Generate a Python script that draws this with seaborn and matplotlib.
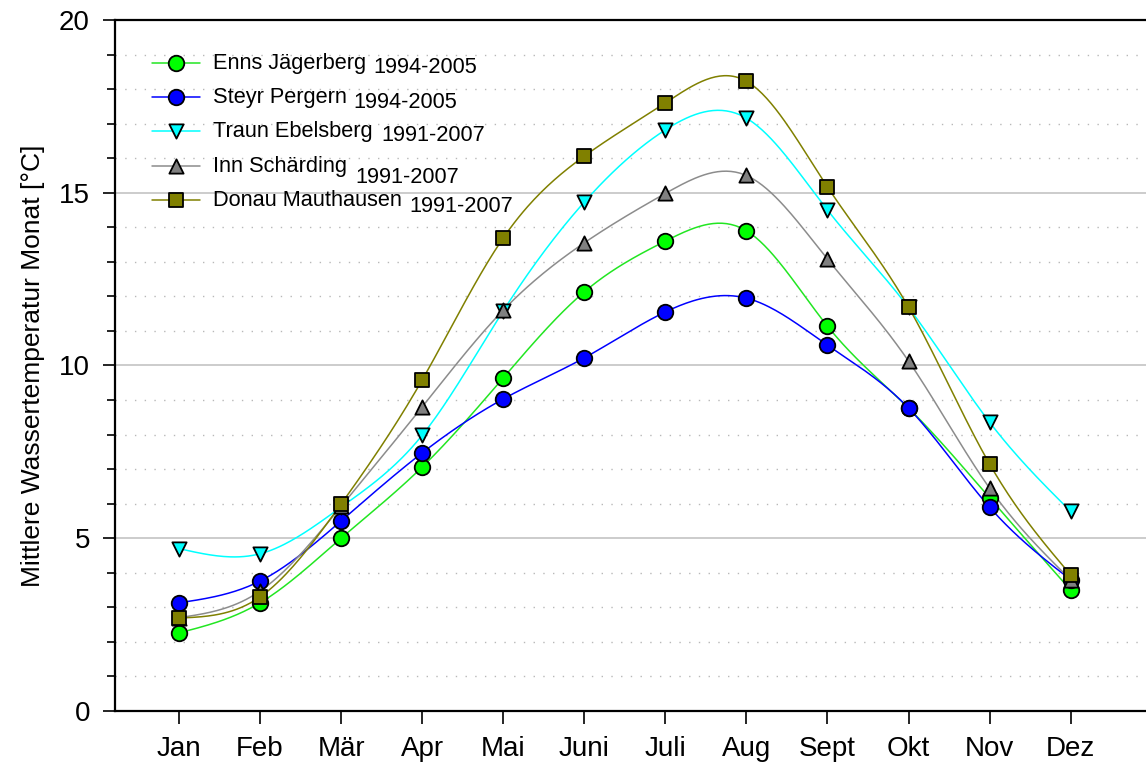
import numpy as np
import pandas as pd
import matplotlib
matplotlib.use("Agg")
import matplotlib.pyplot as plt
import seaborn as sns
from matplotlib.ticker import MultipleLocator

# Daten
monate = ["Jan", "Feb", "Mär", "Apr", "Mai", "Juni", "Juli", "Aug", "Sept", "Okt", "Nov", "Dez"]
enns = [2.26, 3.13, 5.0, 7.06, 9.64, 12.13, 13.6, 13.9, 11.14, 8.77, 6.17, 3.5]
steyr = [3.13, 3.76, 5.5, 7.47, 9.03, 10.22, 11.55, 11.95, 10.59, 8.77, 5.9, 3.8]
traun = [4.7, 4.55, 5.9, 7.98, 11.58, 14.73, 16.82, 17.16, 14.5, 11.68, 8.36, 5.78]
inn = [2.7, 3.47, 5.92, 8.8, 11.6, 13.55, 14.98, 15.5, 13.08, 10.13, 6.45, 3.8]
donau = [2.69, 3.3, 5.99, 9.58, 13.69, 16.06, 17.6, 18.23, 15.17, 11.69, 7.15, 3.94]

namen = ["Enns Jägerberg", "Steyr Pergern", "Traun Ebelsberg", "Inn Schärding", "Donau Mauthausen"]
zeitraum = ["1994-2005", "1994-2005", "1991-2007", "1991-2007", "1991-2007"]
werte = [enns, steyr, traun, inn, donau]
linienfarben = ["#22e622", "#0000ff", "#00ffff", "#8c8c8c", "#808000"]
fuellfarben = ["#00ff00", "#0000ff", "#00ffff", "#808080", "#808000"]
marker = ["o", "o", "v", "^", "s"]
groessen = [125, 125, 105, 105, 90]


def spline(x, y, n=400):
    # natürlicher kubischer Spline, nur zum Zeichnen der glatten Kurven
    x = np.asarray(x, float)
    y = np.asarray(y, float)
    k = len(x)
    h = np.diff(x)
    A = np.zeros((k, k))
    r = np.zeros(k)
    A[0, 0] = A[-1, -1] = 1
    for i in range(1, k - 1):
        A[i, i - 1] = h[i - 1]
        A[i, i] = 2 * (h[i - 1] + h[i])
        A[i, i + 1] = h[i]
        r[i] = 3 * ((y[i + 1] - y[i]) / h[i] - (y[i] - y[i - 1]) / h[i - 1])
    c = np.linalg.solve(A, r)
    b = (y[1:] - y[:-1]) / h - h * (2 * c[:-1] + c[1:]) / 3
    d = (c[1:] - c[:-1]) / (3 * h)
    xs = np.linspace(x[0], x[-1], n)
    idx = np.clip(np.searchsorted(x, xs) - 1, 0, k - 2)
    dx = xs - x[idx]
    return xs, y[idx] + b[idx] * dx + c[idx] * dx ** 2 + d[idx] * dx ** 3


sns.set_style("white")
plt.rcParams["font.family"] = ["Liberation Sans", "DejaVu Sans"]
plt.rcParams["text.color"] = "black"
plt.rcParams["axes.labelcolor"] = "black"
plt.rcParams["xtick.color"] = "black"
plt.rcParams["ytick.color"] = "black"

fig = plt.figure(figsize=(11.46, 7.64), dpi=100)
ax = fig.add_axes([0.1003, 0.0694, 0.8997, 0.9044])

x = np.arange(1, 13)
kurven = []
for name, w in zip(namen, werte):
    xs, ys = spline(x, w)
    kurven.append(pd.DataFrame({"x": xs, "y": ys, "serie": name}))
kurven = pd.concat(kurven, ignore_index=True)

sns.lineplot(data=kurven, x="x", y="y", hue="serie", palette=dict(zip(namen, linienfarben)),
             linewidth=1.1, legend=False, sort=False, estimator=None, ax=ax, zorder=2)

for w, fc, m, s in zip(werte, fuellfarben, marker, groessen):
    sns.scatterplot(x=x, y=w, marker=m, s=s, color=fc, edgecolor="black",
                    linewidth=1.3, ax=ax, zorder=3, legend=False)

# Achsen
ax.set_xlim(0.21, 12.93)
ax.set_ylim(0, 20)
ax.set_xticks(x)
ax.set_xticklabels(monate)
ax.yaxis.set_major_locator(MultipleLocator(5))
ax.yaxis.set_minor_locator(MultipleLocator(1))
ax.tick_params(axis="both", which="major", direction="out", length=9, width=1.2,
               labelsize=20, pad=9, left=True, bottom=True)
ax.tick_params(axis="y", which="minor", direction="out", length=6, width=1.2, left=True)
ax.set_xlabel("")
ax.set_ylabel("Mittlere Wassertemperatur Monat [°C]", fontsize=19, labelpad=10)

for sp in ["left", "bottom", "top"]:
    ax.spines[sp].set_color("black")
    ax.spines[sp].set_linewidth(1.6)
ax.spines["right"].set_visible(False)

ax.grid(False)
for g in [5, 10, 15]:
    ax.axhline(g, color="#c8c8c8", linewidth=1.3, zorder=0)
for g in range(1, 20):
    if g % 5:
        ax.axhline(g, color="#b8b8b8", linewidth=1.0, linestyle=(0, (1, 6)), zorder=0)

# Legende von Hand
def ax_x(px):
    return (px - 115) / (1146 - 115)

def ax_y(py):
    return (711 - py) / (711 - 20)

zeilen_y = [63, 97, 131, 166, 200]
jahr_x = [373, 353, 381, 355, 409]
jahr_dy = [4, 5, 4, 11, 6]
for i in range(5):
    yy = ax_y(zeilen_y[i])
    ax.plot([ax_x(152), ax_x(200)], [yy, yy], color=linienfarben[i], linewidth=1.1,
            transform=ax.transAxes, zorder=4)
    ax.scatter([ax_x(176)], [yy], marker=marker[i], s=groessen[i], color=fuellfarben[i],
               edgecolor="black", linewidth=1.3, transform=ax.transAxes, zorder=5)
    ax.text(ax_x(213), yy, namen[i], fontsize=15.7, va="center", ha="left",
            transform=ax.transAxes)
    ax.text(ax_x(jahr_x[i]), ax_y(zeilen_y[i] + jahr_dy[i]), zeitraum[i], fontsize=15.7,
            va="center", ha="left", transform=ax.transAxes)

fig.savefig("out.png", dpi=100)
